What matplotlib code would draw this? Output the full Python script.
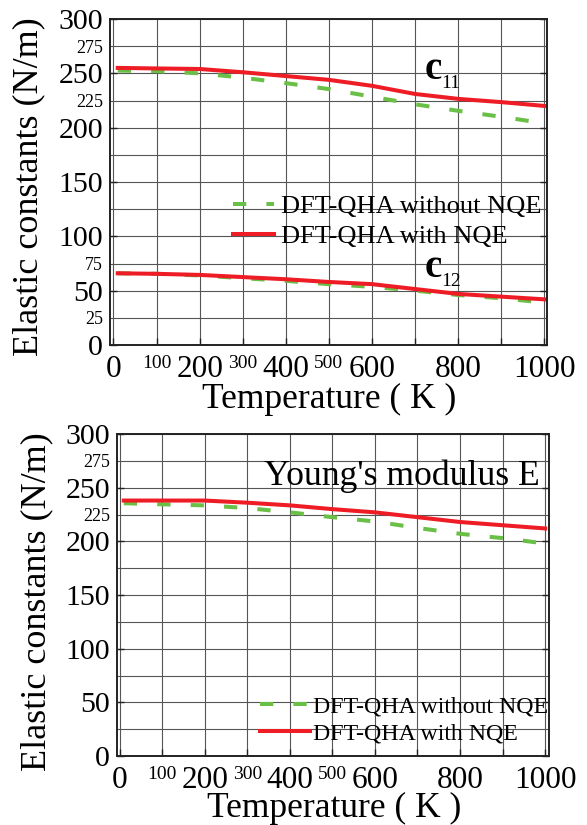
import matplotlib
matplotlib.use("Agg")
import matplotlib.pyplot as plt

plt.rcParams['font.family'] = ['Liberation Serif', 'DejaVu Serif']

temps = [10, 100, 200, 300, 400, 500, 600, 700, 800, 900, 1000]
c11_with = [255, 254.5, 254, 251, 247.5, 244, 238.5, 231, 226.5, 223.5, 220]
c11_without = [252.5, 252, 250, 246, 241, 235.5, 228.5, 221.5, 215.5, 210, 204]
c12_with = [66, 65.5, 64.5, 62.5, 60.5, 58, 56, 51.5, 47, 44.5, 42]
c12_without = [66, 65.5, 64, 61.5, 59, 56, 53.5, 50, 46, 43, 39]
E_with = [238, 238, 238, 236, 233.5, 230, 227, 222.5, 218, 215, 212]
E_without = [235.5, 234.5, 233.5, 231, 227, 222.5, 218.5, 212.5, 207, 203, 198]

# x axis: large labels on major ticks, small labels on some minor ticks
x_major = [0, 200, 400, 600, 800, 1000]
x_major_labels = ['0', '200', '400', '600', '800', '1000']
x_minor = [100, 300, 500, 700, 900]
x_minor_labels = ['100', '300', '500', '', '']
# y axis
y_major = [0, 50, 100, 150, 200, 250, 300]
y_major_labels = ['0', '50', '100', '150', '200', '250', '300']
y_minor = [25, 75, 125, 175, 225, 275]
y_minor_labels_top = ['25', '75', '', '', '225', '275']
y_minor_labels_bot = ['', '', '', '', '225', '275']

label_without = 'DFT-QHA without NQE'
label_with = 'DFT-QHA with NQE'

GREEN = '#6abf47'
RED = '#ee1c25'
W, H = 587, 825

fig = plt.figure(figsize=(W / 100, H / 100), dpi=100)


def rect(l, r, t, b):
    return [l / W, 1 - b / H, (r - l) / W, (b - t) / H]


def style(ax, xlim, y_minor_labels):
    ax.set_xlim(*xlim)
    ax.set_ylim(0, 300)
    ax.set_xticks(x_major)
    ax.set_xticklabels(x_major_labels, fontsize=22.5)
    ax.set_xticks(x_minor, minor=True)
    ax.set_xticklabels(x_minor_labels, minor=True, fontsize=14)
    ax.set_yticks(y_major)
    ax.set_yticklabels(y_major_labels, fontsize=21.5)
    ax.set_yticks(y_minor, minor=True)
    ax.set_yticklabels(y_minor_labels, minor=True, fontsize=13)
    ax.tick_params(which='both', direction='in', width=1, color='#222222')
    ax.tick_params(axis='x', which='both', length=5, pad=7, top=False)
    ax.tick_params(axis='y', which='major', length=5, pad=5, right=True)
    ax.tick_params(axis='y', which='minor', length=0, pad=5, right=False)
    ax.grid(True, which='both', color='#555555', linewidth=0.8)
    for s in ax.spines.values():
        s.set_linewidth(1.4)
        s.set_color('#222222')
    ax.set_axisbelow(True)


dash = (0, (3.3, 5))

# ---------- top panel ----------
ax1 = fig.add_axes(rect(110, 547, 19, 345))
ax1.plot(temps, c11_without, color=GREEN, lw=2.9, linestyle=dash, label=label_without)
ax1.plot(temps, c11_with, color=RED, lw=2.9, label=label_with)
ax1.plot(temps, c12_without, color=GREEN, lw=2.9, linestyle=dash)
ax1.plot(temps, c12_with, color=RED, lw=2.9)
style(ax1, (-8, 1006), y_minor_labels_top)
ax1.set_ylabel('Elastic constants (N/m)', fontsize=26, va='center')
ax1.yaxis.set_label_coords(-0.185, 0.486)
ax1.set_xlabel('Temperature ( K )', fontsize=25.5, va='center')
ax1.xaxis.set_label_coords(0.501, -0.167)
ax1.legend(loc='center left', bbox_to_anchor=(0.281, 0.379), frameon=False,
           fontsize=19, handlelength=1.55, handletextpad=0.27, labelspacing=0.27,
           borderaxespad=0, borderpad=0)
fig.text(425 / W, 1 - 79 / H, 'c', fontsize=28, fontweight='bold', ha='left', va='baseline')
fig.text(441 / W, 1 - 88 / H, '11', fontsize=14, ha='left', va='baseline')
fig.text(425 / W, 1 - 277 / H, 'c', fontsize=28, fontweight='bold', ha='left', va='baseline')
fig.text(441 / W, 1 - 286 / H, '12', fontsize=14, ha='left', va='baseline')

# ---------- bottom panel ----------
ax2 = fig.add_axes(rect(117, 549, 434, 756))
ax2.plot(temps, E_without, color=GREEN, lw=2.9, linestyle=dash, label=label_without)
ax2.plot(temps, E_with, color=RED, lw=2.9, label=label_with)
style(ax2, (-6, 1009), y_minor_labels_bot)
ax2.set_ylabel('Elastic constants (N/m)', fontsize=26, va='center')
ax2.yaxis.set_label_coords(-0.185, 0.48)
ax2.set_xlabel('Temperature ( K )', fontsize=25.5, va='center')
ax2.xaxis.set_label_coords(0.502, -0.163)
ax2.legend(loc='center left', bbox_to_anchor=(0.331, 0.112), frameon=False,
           fontsize=17.2, handlelength=2.1, handletextpad=0.13, labelspacing=0.2,
           borderaxespad=0, borderpad=0)
fig.text(402 / W, 1 - 485 / H, "Young's modulus E", fontsize=25.7, ha='center', va='baseline')

fig.savefig('out.png', dpi=100)
